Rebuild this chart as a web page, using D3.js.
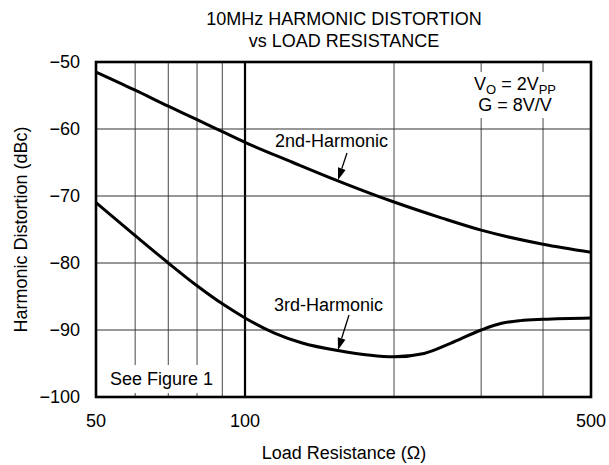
<!DOCTYPE html>
<html>
<head>
<meta charset="utf-8">
<script src="https://cdn.jsdelivr.net/npm/d3@7"></script>
<style>
  body { margin: 0; background: #fff; }
  text { font-family: "Liberation Sans", Arial, sans-serif; fill: #000; }
</style>
</head>
<body>
<svg id="chart" width="609" height="465"></svg>
<script>
// values
const resistance2nd = [50, 60, 70, 80, 90, 100, 125, 150, 200, 250, 300, 400, 500];
const distortion2nd = [-51.5, -54.2, -56.6, -58.6, -60.4, -62.0, -65.0, -67.4, -70.9, -73.3, -75.1, -77.2, -78.4];

const resistance3rd = [50, 60, 70, 80, 90, 100, 115, 130, 155, 200, 230, 260, 300, 330, 360, 400, 500];
const distortion3rd = [-71.0, -75.9, -80.0, -83.4, -86.1, -88.2, -90.5, -91.9, -93.1, -94.0, -93.5, -92.0, -90.0, -89.0, -88.6, -88.4, -88.2];

const xGrid = [60, 70, 80, 90, 100, 200, 300, 400];
const xTickLabels = [50, 100, 500];
const yTicks = [-50, -60, -70, -80, -90, -100];

const svg = d3.select("#chart");
const margin = { left: 96, right: 18, top: 62, bottom: 68 };
const width = 609 - margin.left - margin.right;
const height = 465 - margin.top - margin.bottom;

const x = d3.scaleLog().domain([50, 500]).range([margin.left, margin.left + width]);
const y = d3.scaleLinear().domain([-100, -50]).range([margin.top + height, margin.top]);

svg.append("rect").attr("width", 609).attr("height", 465).attr("fill", "#fff");

// title
svg.append("text").attr("x", 344).attr("y", 25).attr("text-anchor", "middle")
  .style("font-size", "18px").text("10MHz HARMONIC DISTORTION");
svg.append("text").attr("x", 344).attr("y", 47).attr("text-anchor", "middle")
  .style("font-size", "18px").text("vs LOAD RESISTANCE");

// grid
const grid = svg.append("g");
grid.selectAll("line.v").data(xGrid).enter().append("line")
  .attr("x1", d => x(d)).attr("x2", d => x(d))
  .attr("y1", margin.top).attr("y2", margin.top + height)
  .attr("stroke", d => d === 100 ? "#000" : "#666")
  .attr("stroke-width", d => d === 100 ? 2.2 : 1.2);
grid.selectAll("line.h").data(yTicks.filter(d => d > -100 && d < -50)).enter().append("line")
  .attr("x1", margin.left).attr("x2", margin.left + width)
  .attr("y1", d => y(d)).attr("y2", d => y(d))
  .attr("stroke", "#333").attr("stroke-width", 1.1);

// white boxes behind notes
svg.append("rect").attr("x", 467).attr("y", 72).attr("width", 98).attr("height", 46).attr("fill", "#fff");
svg.append("rect").attr("x", 105).attr("y", 365).attr("width", 113).attr("height", 28).attr("fill", "#fff");

// curves
const line = d3.line().x(d => x(d[0])).y(d => y(d[1])).curve(d3.curveMonotoneX);
svg.append("path").datum(d3.zip(resistance2nd, distortion2nd))
  .attr("d", line).attr("fill", "none").attr("stroke", "#000").attr("stroke-width", 3);
svg.append("path").datum(d3.zip(resistance3rd, distortion3rd))
  .attr("d", line).attr("fill", "none").attr("stroke", "#000").attr("stroke-width", 3);

// frame
svg.append("rect").attr("x", margin.left).attr("y", margin.top)
  .attr("width", width).attr("height", height)
  .attr("fill", "none").attr("stroke", "#000").attr("stroke-width", 2.6);

// y axis labels
svg.selectAll("text.ytick").data(yTicks).enter().append("text")
  .attr("x", 80).attr("y", d => y(d)).attr("dy", "0.36em")
  .attr("text-anchor", "end").style("font-size", "18px")
  .text(d => "\u2212" + Math.abs(d));

// x axis labels
svg.selectAll("text.xtick").data(xTickLabels).enter().append("text")
  .attr("x", d => x(d)).attr("y", 427)
  .attr("text-anchor", "middle").style("font-size", "18px")
  .text(d => d);

svg.append("text").attr("x", 344).attr("y", 459).attr("text-anchor", "middle")
  .style("font-size", "18px").text("Load Resistance (\u03A9)");

svg.append("text")
  .attr("transform", `translate(27,${margin.top + height / 2}) rotate(-90)`)
  .attr("text-anchor", "middle").style("font-size", "18px")
  .text("Harmonic Distortion (dBc)");

// notes
const vo = svg.append("text").attr("x", 515).attr("y", 90).attr("text-anchor", "middle").style("font-size", "18px");
vo.append("tspan").text("V");
vo.append("tspan").attr("dy", 4).style("font-size", "13px").text("O");
vo.append("tspan").attr("dy", -4).text(" = 2V");
vo.append("tspan").attr("dy", 4).style("font-size", "13px").text("PP");
svg.append("text").attr("x", 515).attr("y", 111).attr("text-anchor", "middle")
  .style("font-size", "18px").text("G = 8V/V");

svg.append("text").attr("x", 110).attr("y", 385).style("font-size", "18px").text("See Figure 1");

svg.append("text").attr("x", 275).attr("y", 147).style("font-size", "18px").text("2nd-Harmonic");
svg.append("text").attr("x", 274).attr("y", 311).style("font-size", "18px").text("3rd-Harmonic");

// arrows
function arrow(x1, y1, x2, y2) {
  const a = Math.atan2(y2 - y1, x2 - x1);
  const len = 12, w = 4;
  const bx = x2 - len * Math.cos(a), by = y2 - len * Math.sin(a);
  svg.append("line").attr("x1", x1).attr("y1", y1).attr("x2", bx).attr("y2", by)
    .attr("stroke", "#000").attr("stroke-width", 1.3);
  const px = -Math.sin(a) * w, py = Math.cos(a) * w;
  svg.append("path")
    .attr("d", `M${x2},${y2}L${bx + px},${by + py}L${bx - px},${by - py}Z`)
    .attr("fill", "#000");
}
arrow(347, 153, 338, 180);
arrow(349, 315, 338, 350);
</script>
</body>
</html>
